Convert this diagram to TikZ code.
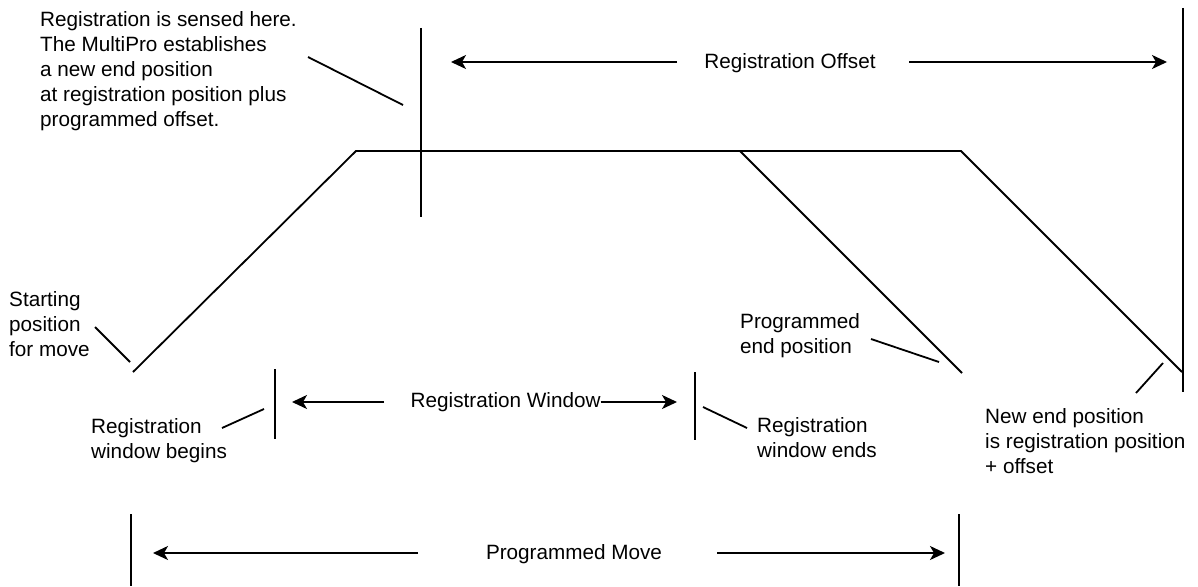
\documentclass[tikz,border=0pt]{standalone}
\usepackage{fontspec}
\setmainfont{Liberation Sans}
\usetikzlibrary{arrows.meta}
\begin{document}
\begin{tikzpicture}[x=1pt,y=-1pt,
  ln/.style={line width=1.8pt},
  arr/.style={ln,-{Stealth[length=15pt,width=14pt,inset=4pt]}},
  lbl/.style={inner sep=0pt,font=\fontsize{20.7}{25}\selectfont,align=left,anchor=north west},
  one/.style={inner sep=0pt,font=\fontsize{20.7}{25}\selectfont},
  ]
\useasboundingbox (0,0) rectangle (1198,586);
% motion profile
\coordinate (start) at (133,372);
\coordinate (c1) at (356,151);
\coordinate (c2) at (740,151);
\coordinate (c3) at (961,151);
\coordinate (pend) at (962,373);
\coordinate (nend) at (1182,372);
\draw[ln,line join=miter] (start) -- (c1) -- (c3) -- (nend);
\draw[ln] (c2) -- (pend);
% registration sensed line
\coordinate (senT) at (421,28);
\coordinate (senB) at (421,217);
\draw[ln] (senT) -- (senB);
% right offset line
\coordinate (offT) at (1183,8);
\coordinate (offB) at (1183,392);
\draw[ln] (offT) -- (offB);
% registration window lines
\coordinate (wbT) at (275,369);
\coordinate (wbB) at (275,439);
\draw[ln] (wbT) -- (wbB);
\coordinate (weT) at (695,372);
\coordinate (weB) at (695,440);
\draw[ln] (weT) -- (weB);
% programmed move lines
\coordinate (pmLT) at (131,514);
\coordinate (pmLB) at (131,586);
\draw[ln] (pmLT) -- (pmLB);
\coordinate (pmRT) at (959,514);
\coordinate (pmRB) at (959,586);
\draw[ln] (pmRT) -- (pmRB);

% labels
\node[lbl] (sensed) at (40,11) {Registration is sensed here.\\The MultiPro establishes\\a new end position\\at registration position plus\\programmed offset.};
\node[lbl] (startlbl) at (9,291) {Starting\\position\\for move};
\node[lbl] (wbeg) at (91,418) {Registration\\window begins};
\node[lbl] (wend) at (757,417) {Registration\\window ends};
\node[lbl] (progend) at (740,313) {Programmed\\end position};
\node[lbl] (newend) at (985,408) {New end position\\is registration position\\+ offset};
\node[one,anchor=base] (offlbl) at (790,68) {Registration Offset};
\node[one,anchor=base west] (winlbl) at (410.5,407) {Registration Window};
\node[one,anchor=base] (movelbl) at (574,559) {Programmed Move};

% leaders
\coordinate (l1a) at (308,57); \coordinate (l1b) at (403,105);
\draw[ln] (l1a) -- (l1b);
\coordinate (l2a) at (95,327); \coordinate (l2b) at (130,362);
\draw[ln] (l2a) -- (l2b);
\coordinate (l3a) at (222,428); \coordinate (l3b) at (264,409);
\draw[ln] (l3a) -- (l3b);
\coordinate (l4a) at (703,407); \coordinate (l4b) at (747,428);
\draw[ln] (l4a) -- (l4b);
\coordinate (l5a) at (871,339); \coordinate (l5b) at (939,362);
\draw[ln] (l5a) -- (l5b);
\coordinate (l6a) at (1136,393); \coordinate (l6b) at (1163,363);
\draw[ln] (l6a) -- (l6b);

% dimension arrows
\coordinate (oa1) at (677,62); \coordinate (oa1t) at (451,62);
\coordinate (oa2) at (909,62); \coordinate (oa2t) at (1167,62);
\draw[arr] (oa1) -- (oa1t);
\draw[arr] (oa2) -- (oa2t);
\coordinate (wa1) at (384,402); \coordinate (wa1t) at (292,402);
\coordinate (wa2t) at (677,402);
\draw[arr] (wa1) -- (wa1t);
\draw[arr] (winlbl.east |- wa2t) -- (wa2t);
\coordinate (ma1) at (418,553); \coordinate (ma1t) at (153,553);
\coordinate (ma2) at (717,553); \coordinate (ma2t) at (945,553);
\draw[arr] (ma1) -- (ma1t);
\draw[arr] (ma2) -- (ma2t);
\end{tikzpicture}
\end{document}
